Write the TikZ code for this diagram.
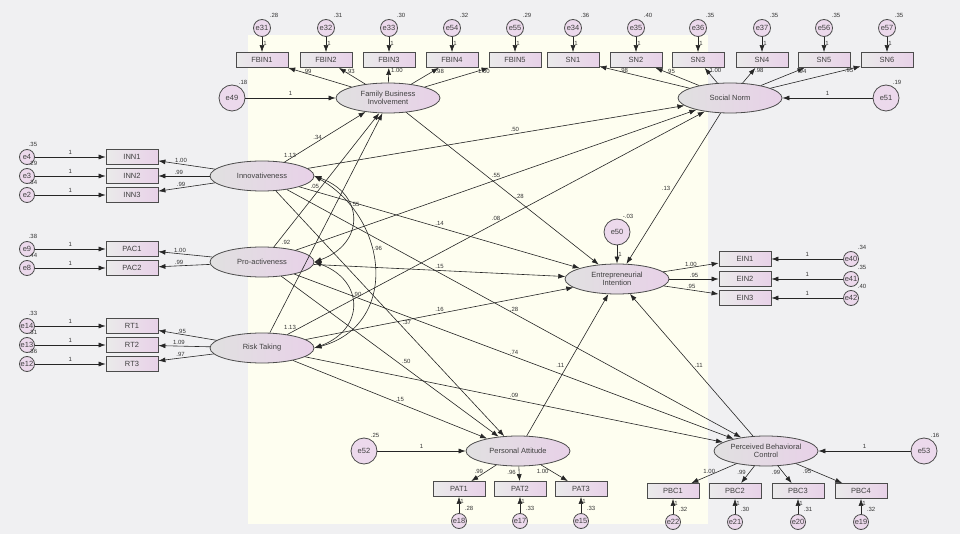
\documentclass[tikz,border=0pt]{standalone}
\usepackage{fontspec}
\setmainfont{Liberation Sans}
\usetikzlibrary{shapes.geometric,arrows.meta}
\definecolor{bgg}{RGB}{240,240,242}
\definecolor{bgy}{RGB}{254,254,240}
\begin{document}
\begin{tikzpicture}[x=1pt,y=-1pt,
 lat/.style={ellipse,draw=black!70,thick,left color=black!12,right color=violet!18,minimum width=104pt,minimum height=30pt,inner sep=0pt,font=\fontsize{7.5}{8.5}\selectfont,align=center,text=black!75},
 obs/.style={rectangle,draw=black!70,thick,left color=black!8,right color=violet!18,minimum width=52pt,minimum height=15pt,inner sep=0pt,font=\fontsize{7.5}{8}\selectfont,text=black!75},
 err/.style={circle,draw=black!70,thick,fill=violet!15,minimum size=18pt,inner sep=0pt,font=\fontsize{7.5}{8}\selectfont,text=black!75},
 errs/.style={err,minimum size=17pt},
 lbl/.style={font=\fontsize{6}{7}\selectfont,text=black!80,inner sep=0pt},
 arr/.style={-{Latex[length=7pt,width=5pt]},black!85,line width=0.6pt},
 cov/.style={{Latex[length=7pt,width=5pt]}-{Latex[length=7pt,width=5pt]},black!85,line width=0.6pt},
]
\path[use as bounding box,fill=bgg] (0,0) rectangle (960,534);
\fill[bgy] (248,35) rectangle (708,524);
% latent
\node[lat] (FBI) at (388,98) {Family Business\\Involvement};
\node[lat] (SN) at (730,98) {Social Norm};
\node[lat] (INN) at (262,176) {Innovativeness};
\node[lat] (PRO) at (262,262) {Pro-activeness};
\node[lat] (RT) at (262,348) {Risk Taking};
\node[lat] (EI) at (617,279) {Entrepreneurial\\Intention};
\node[lat] (PA) at (518,451) {Personal Attitude};
\node[lat] (PBC) at (766,451) {Perceived Behavioral\\Control};
% top indicators
\foreach \n/\x/\e/\v/\l/\src in {FBIN1/262/e31/.28/.99/FBI,FBIN2/326/e32/.31/.93/FBI,FBIN3/389/e33/.30/1.00/FBI,FBIN4/452/e54/.32/.98/FBI,FBIN5/515/e55/.29/1.00/FBI,SN1/573/e34/.36/.98/SN,SN2/636/e35/.40/.95/SN,SN3/698/e36/.35/1.00/SN,SN4/762/e37/.35/.98/SN,SN5/824/e56/.35/.94/SN,SN6/887/e57/.35/.95/SN}{
 \node[obs] (\n) at (\x,60) {\n};
 \node[errs] (\e) at (\x,28) {\e};
 \node[lbl] at (\x+12,15) {\v};
 \draw[arr] (\e) -- node[lbl,right=1pt,pos=0.4]{1} (\n);
 \draw[arr] (\src) -- node[lbl,pos=0.8,right=2pt]{\l} (\n);
}
% left indicators
\foreach \n/\y/\e/\v/\l/\src in {INN1/157/e4/.35/1.00/INN,INN2/176/e3/.29/.99/INN,INN3/195/e2/.34/.99/INN,PAC1/249/e9/.38/1.00/PRO,PAC2/268/e8/.44/.99/PRO,RT1/326/e14/.33/.95/RT,RT2/345/e13/.31/1.09/RT,RT3/364/e12/.36/.97/RT}{
 \node[obs] (\n) at (132,\y) {\n};
 \node[errs,minimum size=15pt] (\e) at (27,\y) {\e};
 \node[lbl] at (33,\y-13) {\v};
 \draw[arr] (\e) -- node[lbl,above=2pt]{1} (\n);
 \draw[arr] (\src) -- node[lbl,pos=0.6,above=1pt]{\l} (\n);
}
% EIN
\foreach \n/\y/\e/\v/\l in {EIN1/259/e40/.34/1.00,EIN2/279/e41/.35/.95,EIN3/298/e42/.40/.95}{
 \node[obs] (\n) at (745,\y) {\n};
 \node[errs,minimum size=15pt] (\e) at (851,\y) {\e};
 \node[lbl] at (862,\y-12) {\v};
 \draw[arr] (\e) -- node[lbl,above=2pt]{1} (\n);
 \draw[arr] (EI) -- node[lbl,pos=0.5,above=1pt]{\l} (\n);
}
% PAT
\foreach \n/\x/\e/\v/\l in {PAT1/459/e18/.28/.99,PAT2/520/e17/.33/.96,PAT3/581/e15/.33/1.00}{
 \node[obs] (\n) at (\x,489) {\n};
 \node[errs,minimum size=15pt] (\e) at (\x,521) {\e};
 \node[lbl] at (\x+10,508) {\v};
 \draw[arr] (\e) -- node[lbl,right=1pt,pos=0.7]{1} (\n);
 \draw[arr] (PA) -- node[lbl,pos=0.4,left=3pt]{\l} (\n);
}
% PBC
\foreach \n/\x/\e/\v/\l in {PBC1/673/e22/.32/1.00,PBC2/735/e21/.30/.99,PBC3/798/e20/.31/.99,PBC4/861/e19/.32/.95}{
 \node[obs] (\n) at (\x,491) {\n};
 \node[errs,minimum size=15pt] (\e) at (\x,522) {\e};
 \node[lbl] at (\x+10,509) {\v};
 \draw[arr] (\e) -- node[lbl,right=1pt,pos=0.7]{1} (\n);
 \draw[arr] (PBC) -- node[lbl,pos=0.4,left=3pt]{\l} (\n);
}
% disturbances
\node[err,minimum size=26pt] (e49) at (232,98) {e49}; \node[lbl] at (243,82) {.18};
\draw[arr] (e49) -- node[lbl,above=2pt]{1} (FBI);
\node[err,minimum size=26pt] (e51) at (886,98) {e51}; \node[lbl] at (897,82) {.19};
\draw[arr] (e51) -- node[lbl,above=2pt]{1} (SN);
\node[err,minimum size=26pt] (e50) at (617,232) {e50}; \node[lbl] at (628,216) {-.03};
\draw[arr] (e50) -- node[lbl,right=1pt]{1} (EI);
\node[err,minimum size=26pt] (e52) at (364,451) {e52}; \node[lbl] at (375,435) {.25};
\draw[arr] (e52) -- node[lbl,above=2pt]{1} (PA);
\node[err,minimum size=26pt] (e53) at (924,451) {e53}; \node[lbl] at (935,435) {.16};
\draw[arr] (e53) -- node[lbl,above=2pt]{1} (PBC);
% variances of exogenous
\node[lbl] at (290,155) {1.13};
\node[lbl] at (286,242) {.92};
\node[lbl] at (290,327) {1.13};
% structural paths
\draw[arr] (INN) -- node[lbl,pos=0.5,left=3pt]{.34} (FBI);
\draw[arr] (PRO) -- node[lbl,pos=0.45,left=2pt]{.05} (FBI.240);
\draw[arr] (RT) -- (FBI.250);
\draw[arr] (INN) -- node[lbl,pos=0.55,above=2pt]{.50} (SN);
\draw[arr] (PRO) -- node[lbl,pos=0.5,above=2pt]{.55} (SN);
\draw[arr] (RT) -- node[lbl,pos=0.5,above=2pt]{.08} (SN);
\draw[arr] (FBI) -- node[lbl,pos=0.55,right=3pt]{.28} (EI);
\draw[arr] (SN) -- node[lbl,pos=0.5,left=3pt]{.13} (EI);
\draw[arr] (INN) -- node[lbl,pos=0.5,above=2pt]{.14} (EI);
\draw[arr] (PRO) -- node[lbl,pos=0.5,above=2pt]{.15} (EI);
\draw[arr] (RT) -- node[lbl,pos=0.5,above=2pt]{.16} (EI);
\draw[arr] (INN) -- node[lbl,pos=0.55,above right=1pt]{.37} (PA);
\draw[arr] (PRO) -- node[lbl,pos=0.55,above right=1pt]{.50} (PA);
\draw[arr] (RT) -- node[lbl,pos=0.55,above=2pt]{.15} (PA);
\draw[arr] (INN) -- node[lbl,pos=0.5,above=2pt]{.28} (PBC);
\draw[arr] (PRO) -- node[lbl,pos=0.5,above=2pt]{.74} (PBC);
\draw[arr] (RT) -- node[lbl,pos=0.5,above=2pt]{.09} (PBC);
\draw[arr] (PA) -- node[lbl,pos=0.5,left=3pt]{.11} (EI);
\draw[arr] (PBC) -- node[lbl,pos=0.5,right=3pt]{.11} (EI);
% covariances
\draw[cov] (INN.east) to[out=-20,in=20,looseness=1.6] node[lbl,pos=0.35,right=2pt]{.55} (PRO.east);
\draw[cov] (INN.east) to[out=-30,in=15,looseness=1.3] node[lbl,pos=0.4,right=2pt]{.96} (RT.east);
\draw[cov] (PRO.east) to[out=-20,in=20,looseness=1.6] node[lbl,pos=0.4,right=2pt]{.90} (RT.east);
\end{tikzpicture}
\end{document}
